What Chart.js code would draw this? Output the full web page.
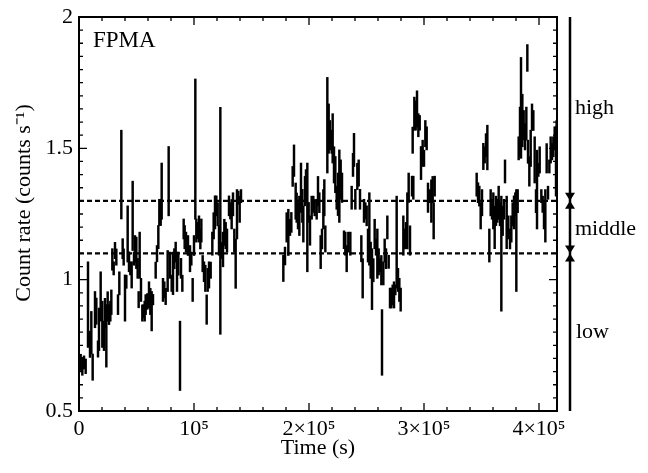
<!DOCTYPE html>
<html><head><meta charset="utf-8">
<script src="https://cdn.jsdelivr.net/npm/chart.js@4.4.1/dist/chart.umd.min.js"></script>
<style>html,body{margin:0;padding:0;background:#fff;}canvas{display:block;}</style>
</head><body>
<canvas id="c" width="648" height="473"></canvas>
<script>
// ---- data (time in s, count rate in counts/s, 1-sigma error) ----
const time = [
 1450,2900,4350,5800,7830,9570,10720,11880,13910,15070,
 16520,17390,18840,20290,21740,22610,23770,24930,26090,27250,
 28120,28990,30150,31300,32460,33910,35070,36810,37970,38840,
 40000,41160,42320,43480,44640,45800,46670,47830,48700,49860,
 51010,51880,52750,53910,55070,56230,57100,57970,59420,60870,
 62030,63190,64350,66670,67830,68990,69860,71020,71890,73040,
 74200,75360,77100,77970,79130,80580,81740,82900,84060,85220,
 86380,87830,88700,89860,91020,91890,93040,94780,96520,97680,
 98840,100000,101160,102030,103190,104350,105510,106380,107540,108700,
 109860,111020,111890,113050,114490,115940,117100,118260,119420,120580,
 121740,122900,124060,125220,126380,127540,128700,130440,131600,132750,
 133910,135070,136230,137390,138550,139710,140870,
 177680,179130,180580,182030,183480,184640,185800,186960,188410,189280,
 190440,191600,193040,194200,195070,196520,197390,198550,199710,200870,
 202320,203770,204930,206670,207830,208990,210150,211310,212470,213330,
 214200,215940,217100,218260,219710,220580,221740,222900,224060,225220,
 226380,227540,228700,230440,231600,232760,234200,235940,237100,238260,
 239130,240290,242030,243190,244350,245510,246670,247830,248990,250150,
 251310,252470,253630,254780,255940,257100,258260,259420,260580,261740,
 262900,263480,264640,265800,266960,268120,269280,270440,271600,272760,
 273920,275080,276230,277390,278550,279710,282030,283190,284350,285510,
 286670,287830,289570,290150,290730,291600,292760,293920,295080,296240,
 297400,298840,300000,301160,302320,303480,304930,306380,307540,308400,309280,
 345800,346960,348120,349280,350440,351600,352760,353920,355080,356810,
 357970,359130,360290,361450,362610,363770,364930,366090,367250,368410,
 369570,370440,371890,373340,374790,375940,377100,378260,379420,380290,
 381450,382320,383480,384350,385510,386670,387830,388990,389860,390440,
 391600,392760,393920,395080,396240,397400,398270,399420,400580,402030,
 403190,404350,405510,406670,407830,408990,410150,411310,412470,413630,414790,
 415300
];
const rate = [
 0.685,0.670,0.685,0.670,0.905,0.754,0.798,0.667,0.886,0.880,
 0.736,0.811,0.936,0.830,0.786,0.873,0.786,0.898,0.867,0.880,
 0.914,1.077,1.043,1.111,1.086,0.905,0.986,1.400,1.118,1.086,
 0.930,0.992,1.174,1.068,1.043,1.018,1.243,1.080,1.118,1.102,
 1.043,0.924,1.093,0.961,0.873,0.880,0.880,0.905,0.917,0.942,
 0.917,0.880,0.924,1.036,1.099,1.162,1.256,1.256,1.337,0.961,
 0.961,0.936,1.033,1.375,1.055,0.986,1.024,1.080,1.105,1.030,
 1.061,0.710,1.043,0.986,1.193,1.162,1.143,1.130,1.080,1.080,
 0.961,1.130,1.497,1.187,1.187,1.193,1.155,1.187,1.061,1.030,
 1.005,0.886,0.999,1.018,1.036,1.137,1.205,1.256,1.281,1.249,
 1.149,1.224,1.111,1.115,1.180,1.168,1.149,1.281,1.262,1.249,
 1.287,1.149,1.061,1.249,1.312,1.268,1.318,
 1.043,1.090,1.199,1.180,1.199,1.218,1.393,1.453,1.299,1.274,
 1.243,1.243,1.350,1.281,1.212,1.337,1.356,1.237,1.256,1.187,
 1.274,1.287,1.274,1.268,1.337,1.293,1.105,1.155,1.268,1.312,
 1.155,1.588,1.575,1.550,1.525,1.538,1.437,1.400,1.312,1.325,
 1.356,1.381,1.350,1.152,1.137,1.080,1.143,1.137,1.312,1.437,
 1.494,1.306,1.393,1.406,1.306,1.118,1.005,1.262,1.262,1.243,
 1.130,1.193,1.074,1.002,1.036,1.174,1.124,1.099,1.068,1.055,
 1.036,0.761,1.024,1.111,1.080,1.199,1.068,0.930,0.930,0.942,
 0.942,0.961,1.143,0.999,0.961,0.924,1.168,1.155,1.168,1.224,
 1.350,1.149,1.356,1.531,1.350,1.632,1.625,1.650,1.588,1.597,
 1.444,1.481,1.462,1.556,1.538,1.312,1.318,1.299,1.343,1.224,1.356,
 1.362,1.331,1.318,1.243,1.293,1.469,1.475,1.512,1.503,1.130,
 1.293,1.268,1.262,1.199,1.262,1.262,1.293,1.249,1.099,1.224,
 1.268,1.412,1.218,1.199,1.155,1.193,1.249,1.256,1.287,1.149,
 1.299,1.500,1.563,1.654,1.606,1.588,1.544,1.594,1.844,1.487,
 1.412,1.500,1.619,1.606,1.456,1.299,1.343,1.418,1.456,1.318,
 1.287,1.243,1.243,1.462,1.331,1.431,1.494,1.487,1.506,1.538,1.450,
 1.556
];
const err = [
 0.031,0.034,0.025,0.028,0.163,0.050,0.081,0.050,0.069,0.050,
 0.031,0.081,0.094,0.088,0.056,0.056,0.119,0.056,0.038,0.038,
 0.047,0.041,0.025,0.031,0.031,0.038,0.044,0.169,0.038,0.031,
 0.088,0.025,0.107,0.038,0.025,0.050,0.132,0.025,0.050,0.060,
 0.038,0.031,0.088,0.044,0.031,0.025,0.038,0.038,0.030,0.050,
 0.050,0.075,0.020,0.031,0.031,0.044,0.050,0.050,0.107,0.044,
 0.031,0.031,0.078,0.132,0.050,0.031,0.081,0.038,0.038,0.075,
 0.044,0.132,0.038,0.031,0.038,0.044,0.038,0.038,0.050,0.025,
 0.044,0.038,0.267,0.044,0.031,0.050,0.038,0.044,0.031,0.038,
 0.050,0.056,0.044,0.050,0.031,0.044,0.050,0.063,0.038,0.044,
 0.056,0.432,0.031,0.066,0.050,0.050,0.044,0.038,0.031,0.056,
 0.044,0.044,0.094,0.094,0.025,0.050,0.025,
 0.050,0.034,0.056,0.088,0.031,0.038,0.038,0.060,0.069,0.056,
 0.050,0.075,0.094,0.063,0.069,0.056,0.063,0.207,0.038,0.056,
 0.044,0.031,0.031,0.038,0.056,0.038,0.063,0.038,0.075,0.069,
 0.050,0.182,0.094,0.056,0.044,0.094,0.069,0.069,0.044,0.081,
 0.138,0.075,0.056,0.034,0.044,0.050,0.038,0.044,0.044,0.044,
 0.063,0.038,0.050,0.050,0.038,0.050,0.075,0.044,0.031,0.038,
 0.063,0.138,0.069,0.116,0.044,0.056,0.031,0.094,0.050,0.025,
 0.056,0.125,0.044,0.044,0.038,0.044,0.025,0.038,0.038,0.038,
 0.050,0.019,0.175,0.044,0.044,0.044,0.075,0.038,0.050,0.107,
 0.056,0.056,0.038,0.050,0.044,0.063,0.056,0.069,0.044,0.028,
 0.063,0.050,0.031,0.050,0.044,0.056,0.025,0.081,0.050,0.069,0.038,
 0.044,0.038,0.038,0.050,0.050,0.050,0.031,0.044,0.085,0.063,
 0.050,0.038,0.069,0.081,0.056,0.044,0.063,0.044,0.219,0.056,
 0.038,0.044,0.100,0.044,0.038,0.050,0.044,0.063,0.044,0.194,
 0.044,0.044,0.094,0.192,0.100,0.056,0.050,0.063,0.051,0.044,
 0.056,0.069,0.050,0.038,0.088,0.044,0.150,0.025,0.050,0.025,
 0.031,0.050,0.100,0.056,0.025,0.025,0.050,0.031,0.038,0.044,0.132,
 0.050
];
const thresholds = [1.1, 1.3];
const xRange = [0, 415650];
const yRange = [0.5, 2];
const xTicks = [0, 100000, 200000, 300000, 400000];
const xTickLabels = ['0', '10\u2075', '2\u00d710\u2075', '3\u00d710\u2075', '4\u00d710\u2075'];
const yTicks = [0.5, 1, 1.5, 2];
const yTickLabels = ['0.5', '1', '1.5', '2'];
const stateLabels = ['high', 'middle', 'low'];
const panelLabel = 'FPMA';

// ---- build datasets ----
const bars = time.map((t, i) => ({x: t, y: [rate[i] - err[i], rate[i] + err[i]]}));
const FONT = '"Liberation Serif", "Times New Roman", serif';
Chart.defaults.font.family = FONT;
Chart.defaults.color = '#000';

const decor = {
  id: 'decor',
  afterDraw(chart) {
    const {ctx, chartArea: a, scales: {x, y}} = chart;
    ctx.save();
    ctx.strokeStyle = '#000';
    ctx.fillStyle = '#000';
    // inward ticks
    ctx.lineWidth = 1.3;
    ctx.beginPath();
    for (let i = 0; i <= 20; i++) {
      const px = x.getPixelForValue(i * 20000);
      const L = (i % 5 === 0) ? 8 : 4;
      ctx.moveTo(px, a.bottom); ctx.lineTo(px, a.bottom - L);
      ctx.moveTo(px, a.top); ctx.lineTo(px, a.top + L);
    }
    for (let i = 0; i <= 30; i++) {
      const py = y.getPixelForValue(yRange[0] + i * 0.05);
      const L = (i % 10 === 0) ? 8 : 4;
      ctx.moveTo(a.left, py); ctx.lineTo(a.left + L, py);
      ctx.moveTo(a.right, py); ctx.lineTo(a.right - L, py);
    }
    ctx.stroke();
    // frame
    ctx.lineWidth = 2;
    ctx.strokeRect(a.left, a.top, a.right - a.left, a.bottom - a.top);
    // state bar on the right
    const lx = a.right + 13;
    ctx.lineWidth = 2.5;
    ctx.beginPath(); ctx.moveTo(lx, a.top); ctx.lineTo(lx, a.bottom); ctx.stroke();
    thresholds.forEach(v => {
      const cy = y.getPixelForValue(v);
      ctx.beginPath();
      ctx.moveTo(lx - 5, cy - 8); ctx.lineTo(lx + 5, cy - 8); ctx.lineTo(lx, cy); ctx.closePath();
      ctx.moveTo(lx - 5, cy + 8); ctx.lineTo(lx + 5, cy + 8); ctx.lineTo(lx, cy); ctx.closePath();
      ctx.fill();
    });
    ctx.font = '22px ' + FONT;
    ctx.textAlign = 'left';
    ctx.textBaseline = 'alphabetic';
    const yHigh = y.getPixelForValue((thresholds[1] + yRange[1]) / 2) + 5;
    const yMid = y.getPixelForValue((thresholds[0] + thresholds[1]) / 2) + 8;
    const yLow = y.getPixelForValue((yRange[0] + thresholds[0]) / 2) + 6;
    ctx.fillText(stateLabels[0], lx + 5, yHigh);
    ctx.fillText(stateLabels[1], lx + 5, yMid);
    ctx.fillText(stateLabels[2], lx + 6, yLow);
    // panel label
    ctx.font = '23px ' + FONT;
    ctx.fillText(panelLabel, a.left + 14, a.top + 30);
    ctx.restore();
  }
};

new Chart(document.getElementById('c'), {
  type: 'bar',
  data: {
    datasets: [
      {
        type: 'bar',
        data: bars,
        backgroundColor: '#000',
        borderWidth: 0,
        barThickness: 1.8,
        grouped: false,
        order: 2
      },
      ...thresholds.map(v => ({
        type: 'line',
        data: [{x: xRange[0], y: v}, {x: xRange[1], y: v}],
        borderColor: '#000',
        borderWidth: 2.2,
        borderDash: [5, 3],
        pointRadius: 0,
        fill: false,
        order: 1
      }))
    ]
  },
  options: {
    responsive: false,
    animation: false,
    layout: {padding: {left: 0, right: 91, top: 12, bottom: 0}},
    plugins: {legend: {display: false}, tooltip: {enabled: false}},
    scales: {
      x: {
        type: 'linear',
        min: xRange[0], max: xRange[1],
        offset: false,
        grid: {display: false, drawTicks: false},
        border: {display: false},
        afterBuildTicks: s => { s.ticks = xTicks.map(v => ({value: v})); },
        ticks: {
          maxRotation: 0,
          minRotation: 0,
          autoSkip: false,
          padding: 7,
          font: {size: 22, lineHeight: 1},
          callback: v => { const i = xTicks.indexOf(v); return i >= 0 ? xTickLabels[i] : ''; }
        },
        title: {display: true, text: 'Time (s)', font: {size: 22}, padding: {top: 0, bottom: 12}},
        afterFit: s => { s.height = 62; }
      },
      y: {
        type: 'linear',
        min: yRange[0], max: yRange[1],
        grid: {display: false, drawTicks: false},
        border: {display: false},
        afterBuildTicks: s => { s.ticks = yTicks.map(v => ({value: v})); },
        ticks: {
          autoSkip: false,
          padding: 6,
          font: {size: 22, lineHeight: 1},
          callback: v => { const i = yTicks.findIndex(t => Math.abs(t - v) < 1e-9); return i >= 0 ? yTickLabels[i] : ''; }
        },
        title: {display: true, text: '    Count rate (counts s\u207b\u00b9)', font: {size: 22}, padding: {top: 11, bottom: 0}},
        afterFit: s => { s.width = 79; }
      }
    }
  },
  plugins: [decor]
});
</script>
</body></html>
